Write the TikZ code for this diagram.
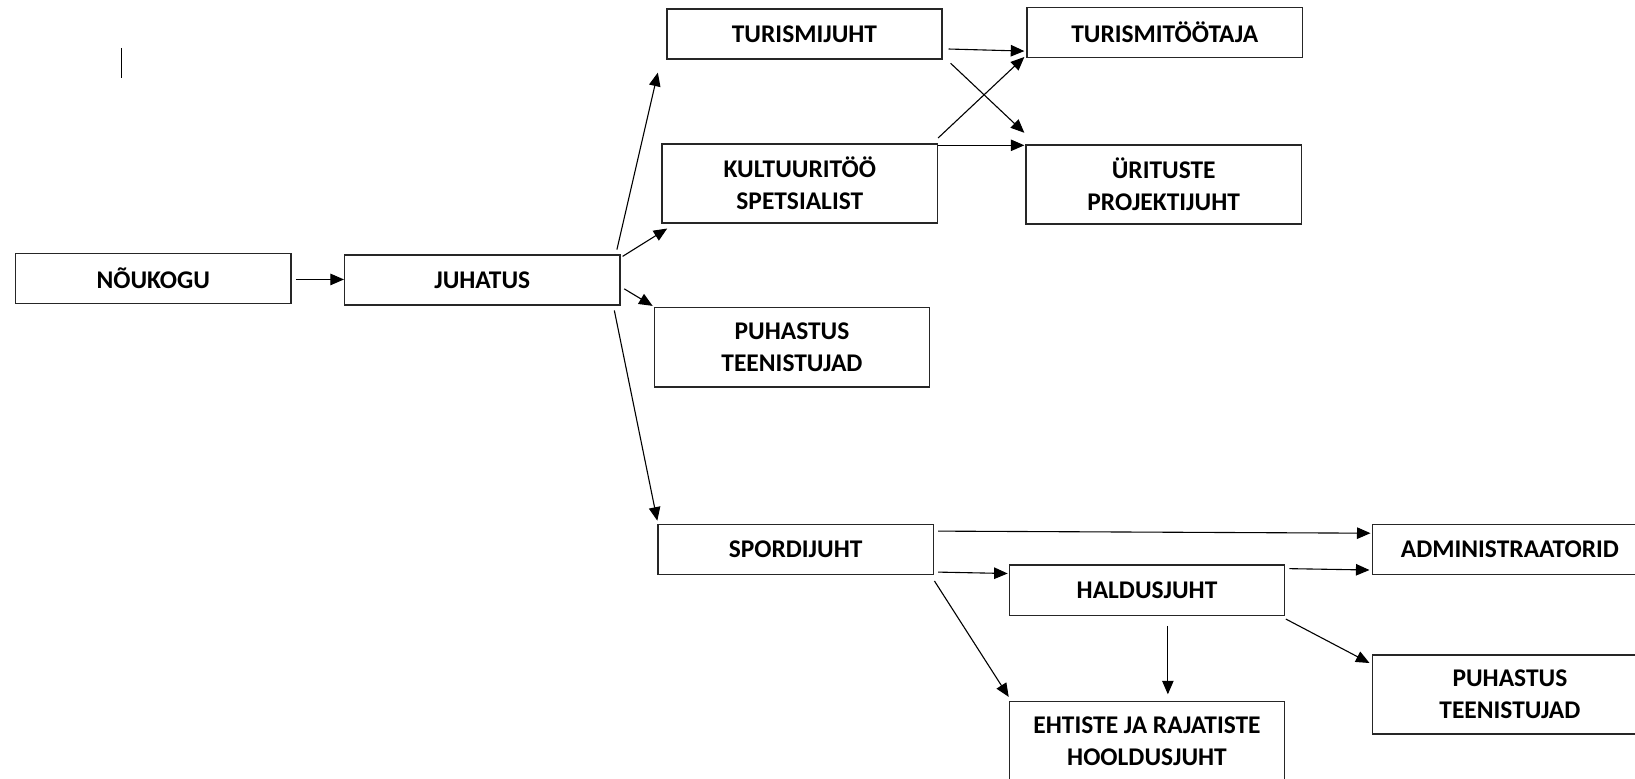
\documentclass[tikz,border=0pt]{standalone}
\usepackage{fontspec}
\setmainfont{Carlito}
\usetikzlibrary{arrows.meta,calc}

\tikzset{
  box/.style={draw=black!85, line width=0.75pt, minimum width=5.28cm, minimum height=0.96cm,
    inner sep=0pt, align=center, font=\fontsize{13.9}{17.6}\selectfont\bfseries},
  tallbox/.style={box, minimum height=1.52cm},
  arr/.style={-{Triangle[length=2.6mm,width=2.2mm]}, line width=0.6pt}
}

\begin{document}
\begin{tikzpicture}[x=0.02cm, y=-0.02cm]
				\clip (0,0) rectangle (1568,747);
				\draw[line width=0.6pt] (116.5,46) -- (116.5,75);
				
				\node[box] (noukogu) at (147,267) {NÕUKOGU};
				\node[box] (juhatus) at (462.5,268.5) {JUHATUS};
				
				\node[box] (turism) at (771.5,32.5) {TURISMIJUHT};
				\node[tallbox] (kultuur) at (767,176) {KULTUURITÖÖ\\SPETSIALIST};
				\node[tallbox] (puhastus) at (759.5,333) {PUHASTUS\\TEENISTUJAD};
				\node[box] (sport) at (763,527) {SPORDIJUHT};
				
				\node[box] (tootaja) at (1117,31) {TURISMITÖÖTAJA};
				\node[tallbox] (uritus) at (1116,177) {ÜRITUSTE\\PROJEKTIJUHT};
				
				\node[box] (haldus) at (1100,566) {HALDUSJUHT};
				\node[tallbox] (ehtiste) at (1100,710.5) {EHTISTE JA RAJATISTE\\HOOLDUSJUHT};
				\node[box] (admin) at (1448,527) {ADMINISTRAATORID};
				\node[tallbox] (puhastus2) at (1448,666) {PUHASTUS\\TEENISTUJAD};
				
				\draw[arr] ($(noukogu.east)+(4,1)$) -- ($(juhatus.west)+(0,-0.5)$);
				\draw[arr] ($(juhatus.north east)+(-3.5,-4.5)$) -- ($(turism.south west)+(-8,12.5)$);
				\draw[arr] ($(juhatus.north east)+(2,2)$) -- ($(kultuur.south west)+(5.5,4.5)$);
				\draw[arr] ($(juhatus.east)+(3.5,8.5)$) -- ($(puhastus.north west)+(-1,-1)$);
				\draw[arr] ($(juhatus.south east)+(-6,4.5)$) -- ($(sport.north west)+(0,-3)$);
				
				\draw[arr] ($(turism.east)+(5.5,14.5)$) -- ($(tootaja.west)+(-2,18)$);
				\draw[arr] ($(turism.south east)+(7.5,3.5)$) -- ($(uritus.north west)+(-1,-11)$);
				\draw[arr] ($(kultuur.north east)+(0,-5)$) -- ($(tootaja.south west)+(-2,-1)$);
				\draw[arr] ($(kultuur.north east)+(0,2)$) -- ($(uritus.north west)+(-1,1)$);
				
				\draw[arr] ($(sport.north east)+(4,7)$) -- ($(admin.north west)+(-1,9)$);
				\draw[arr] ($(sport.south east)+(4,-3)$) -- ($(haldus.west)+(-1,-16)$);
				\draw[arr] ($(sport.south east)+(0.5,5.5)$) -- ($(ehtiste.north west)+(0,-3.5)$);
				\draw[arr] ($(haldus.north east)+(4,4)$) -- ($(admin.south west)+(-2,-5)$);
				\draw[arr] ($(haldus.south)+(20,9.5)$) -- ($(ehtiste.north)+(20,-6)$);
				\draw[arr] ($(haldus.south east)+(0.5,3)$) -- ($(puhastus2.north west)+(-2,8.5)$);
			\end{tikzpicture}
\end{document}
